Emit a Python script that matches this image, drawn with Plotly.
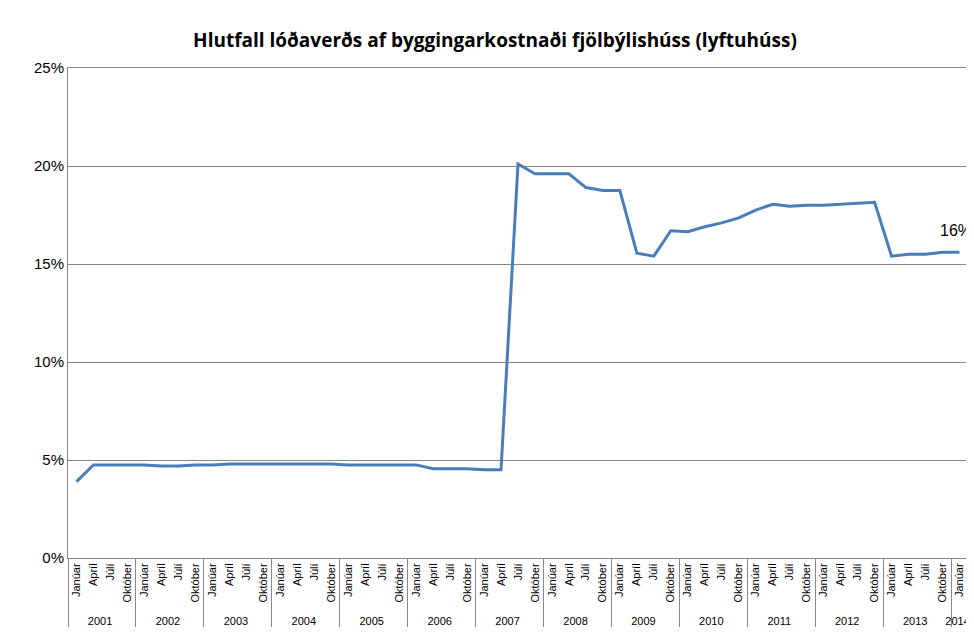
import plotly.graph_objects as go

years = [str(y) for y in range(2001, 2014)]
months = ["Janúar", "Apríl", "Júlí", "Október"]
values = [
    3.9, 4.75, 4.75, 4.75,
    4.75, 4.7, 4.7, 4.75,
    4.75, 4.8, 4.8, 4.8,
    4.8, 4.8, 4.8, 4.8,
    4.75, 4.75, 4.75, 4.75,
    4.75, 4.55, 4.55, 4.55,
    4.5, 4.5, 20.1, 19.6,
    19.6, 19.6, 18.9, 18.75,
    18.75, 15.55, 15.4, 16.7,
    16.65, 16.9, 17.1, 17.35,
    17.75, 18.05, 17.95, 18.0,
    18.0, 18.05, 18.1, 18.15,
    15.4, 15.5, 15.5, 15.6,
    15.6,
]
year_lvl = [y for y in years for _ in months] + ["2014"]
month_lvl = months * len(years) + ["Janúar"]
vals = [v / 100 for v in values]

fig = go.Figure(go.Scatter(x=[year_lvl, month_lvl], y=vals, mode="lines",
                           line=dict(color="#4a7ebb", width=3)))
fig.add_annotation(x=("2014", "Janúar"), y=vals[-1], text="16%", showarrow=False,
                   yshift=22, xshift=-4, font=dict(size=16, color="black"))
fig.update_layout(
    width=974, height=638, plot_bgcolor="white", paper_bgcolor="white",
    margin=dict(l=60, r=14, t=60, b=88),
    font=dict(family="Liberation Sans", color="black"),
    title=dict(text="<b>Hlutfall lóðaverðs af byggingarkostnaði fjölbýlishúss (lyftuhúss)</b>",
               x=0.5, y=0.96, font=dict(size=19, family="Open Sans")),
    showlegend=False,
)
fig.update_xaxes(type="multicategory", tickangle=-90, tickfont=dict(size=11),
                 range=[-0.5, 52.5],
                 showline=True, linecolor="#888", mirror=True, showgrid=False,
                 showdividers=True, dividercolor="#888", ticks="")
fig.update_yaxes(range=[0, 0.25], dtick=0.05, tickformat=".0%", tickfont=dict(size=15),
                 showgrid=True, gridcolor="#888", showline=True, linecolor="#888",
                 mirror=True, zeroline=False)
fig.write_html("out.html")
